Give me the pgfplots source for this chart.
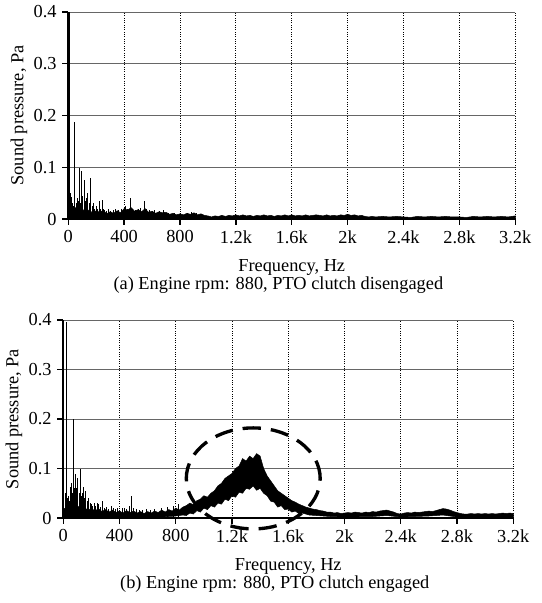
\documentclass[border=0pt]{standalone}
\usepackage{fontspec}
\setmainfont{Liberation Serif}
\usepackage{pgfplots}
\pgfplotsset{compat=1.18}

\pgfplotsset{spec/.style={
  scale only axis, clip=false,
  xmin=0, xmax=3200, ymin=0, ymax=0.4,
  axis x line=bottom, axis y line=left,
  axis line style={-, line width=1pt},
  xtick={0,400,800,1200,1600,2000,2400,2800,3200},
  xticklabels={0,400,800,1.2k,1.6k,2k,2.4k,2.8k,3.2k},
  ytick={0,0.1,0.2,0.3,0.4},
  yticklabels={0,0.1,0.2,0.3,0.4},
  tick align=outside, major tick length=3.5pt,
  tick style={black, line width=0.8pt},
  grid=major,
  x grid style={black, densely dotted, line width=0.5pt},
  y grid style={black!60, line width=0.5pt},
  xlabel={Frequency, Hz}, ylabel={Sound pressure, Pa},
  ylabel style={yshift=-3pt}, xlabel style={yshift=-2.5pt},
  tick label style={font=\fontsize{11}{13}\selectfont},
  label style={font=\fontsize{11}{13}\selectfont},
  /pgf/number format/assume math mode=true,
}}

\begin{document}
\begin{tikzpicture}
\path (-37.8pt,-51pt) rectangle (286.8pt,310.8pt);

% (a) clutch disengaged
\begin{axis}[spec, at={(3pt,179.4pt)}, width=268.2pt, height=124.2pt]
\addplot[fill=black, draw=black, line width=0.3pt] coordinates {
(0,0.02)(25,0.015)(50,0.022)(75,0.014)(100,0.02)(125,0.012)(150,0.018)(175,0.011)
(200,0.016)(225,0.013)(250,0.017)(275,0.01)(300,0.014)(325,0.011)(350,0.016)(375,0.012)
(400,0.02)(425,0.017)(450,0.022)(475,0.015)(500,0.018)(525,0.014)(550,0.02)(575,0.013)
(600,0.015)(625,0.011)(650,0.014)(675,0.012)(700,0.013)(725,0.009)(750,0.011)(775,0.008)
(800,0.01)(825,0.008)(850,0.011)(875,0.009)(900,0.012)(925,0.008)(950,0.01)(975,0.007)
(1000,0.006)(1025,0.004)(1050,0.006)(1075,0.005)(1100,0.007)(1125,0.005)(1150,0.007)(1175,0.006)
(1200,0.008)(1225,0.006)(1250,0.008)(1275,0.006)(1300,0.007)(1325,0.005)(1350,0.007)(1375,0.006)
(1400,0.008)(1425,0.006)(1450,0.007)(1475,0.005)(1500,0.007)(1525,0.006)(1550,0.008)(1575,0.006)
(1600,0.008)(1625,0.006)(1650,0.007)(1675,0.006)(1700,0.008)(1725,0.006)(1750,0.007)(1775,0.008)
(1800,0.007)(1825,0.006)(1850,0.008)(1875,0.006)(1900,0.007)(1925,0.006)(1950,0.008)(1975,0.007)
(2000,0.009)(2025,0.007)(2050,0.008)(2075,0.006)(2100,0.007)(2125,0.005)(2150,0.004)(2175,0.005)
(2200,0.004)(2250,0.005)(2300,0.004)(2350,0.005)(2400,0.004)(2450,0.003)(2500,0.005)(2550,0.004)
(2600,0.005)(2650,0.004)(2700,0.005)(2750,0.004)(2800,0.004)(2850,0.003)(2900,0.005)(2950,0.004)
(3000,0.005)(3050,0.004)(3100,0.005)(3150,0.004)(3200,0.006)
} \closedcycle;
\addplot[ycomb, black, line width=0.5pt, mark=none] coordinates {
(2,0.35)(8,0.40)(14,0.05)(21,0.043)(30,0.03)(38,0.025)(47,0.187)(55,0.03)(63,0.04)
(71,0.035)(79,0.098)(87,0.03)(95,0.092)(104,0.045)(113,0.075)(121,0.035)(130,0.04)
(140,0.051)(150,0.03)(161,0.079)(170,0.025)(180,0.03)(190,0.02)(200,0.025)(212,0.02)
(224,0.034)(232,0.02)(241,0.037)(250,0.02)(262,0.018)(275,0.015)(290,0.02)(305,0.015)
(320,0.018)(340,0.02)(360,0.017)(380,0.02)(400,0.022)(412,0.025)(425,0.02)(446,0.041)
(460,0.02)(480,0.018)(500,0.02)(520,0.022)(546,0.034)(560,0.02)(580,0.018)(600,0.016)
(620,0.017)(650,0.016)(680,0.017)(720,0.012)(760,0.012)(800,0.011)(850,0.012)(880,0.013)(920,0.012)
};
\node[font=\fontsize{11}{13}\selectfont] at (rel axis cs:0.47,0) [yshift=-39.5pt]
  {(a) Engine rpm: 880, PTO clutch disengaged};
\end{axis}

% (b) clutch engaged
\begin{axis}[spec, at={(0pt,0pt)}, width=270pt, height=118.8pt]
\addplot[fill=black, draw=black, line width=0.3pt] coordinates {
(0,0.02)(25,0.018)(50,0.025)(75,0.02)(100,0.025)(125,0.018)(150,0.022)(175,0.015)
(200,0.02)(225,0.014)(250,0.019)(275,0.013)(300,0.017)(325,0.012)(350,0.016)(375,0.011)
(400,0.014)(425,0.01)(450,0.015)(475,0.011)(500,0.014)(525,0.01)(550,0.013)(575,0.009)
(600,0.013)(625,0.01)(650,0.014)(675,0.011)(700,0.016)(725,0.012)(750,0.017)(775,0.014)
(800,0.02)(825,0.016)(850,0.022)(875,0.025)(900,0.03)(925,0.027)(950,0.035)(975,0.038)
(1000,0.045)(1025,0.042)(1050,0.05)(1075,0.055)(1100,0.065)(1125,0.07)(1150,0.08)(1175,0.085)
(1200,0.09)(1225,0.1)(1250,0.105)(1275,0.12)(1300,0.115)(1325,0.125)(1350,0.12)(1375,0.13)
(1400,0.125)(1425,0.1)(1450,0.085)(1475,0.075)(1500,0.065)(1525,0.055)(1550,0.05)(1575,0.045)
(1600,0.04)(1625,0.035)(1650,0.032)(1675,0.028)(1700,0.025)(1725,0.022)(1750,0.02)(1775,0.018)
(1800,0.017)(1825,0.015)(1850,0.014)(1875,0.012)(1900,0.012)(1925,0.01)(1950,0.011)(1975,0.009)
(2000,0.01)(2025,0.011)(2050,0.01)(2075,0.012)(2100,0.011)(2125,0.01)(2150,0.012)(2175,0.011)
(2200,0.013)(2225,0.012)(2250,0.014)(2275,0.015)(2300,0.016)(2325,0.014)(2350,0.012)(2375,0.009)
(2400,0.008)(2425,0.01)(2450,0.011)(2475,0.01)(2500,0.012)(2525,0.011)(2550,0.012)(2575,0.013)
(2600,0.014)(2625,0.013)(2650,0.015)(2675,0.017)(2700,0.019)(2725,0.018)(2750,0.016)(2775,0.013)
(2800,0.011)(2825,0.009)(2850,0.008)(2875,0.008)(2900,0.009)(2925,0.008)(2950,0.009)(2975,0.008)
(3000,0.009)(3025,0.008)(3050,0.009)(3075,0.008)(3100,0.009)(3125,0.01)(3150,0.009)(3175,0.01)(3200,0.009)
(3200,0.002)(2800,0.002)(2700,0.006)(2600,0.004)(2400,0.002)(2300,0.005)(2200,0.003)(2000,0.002)
(1900,0.003)(1800,0.005)(1750,0.006)(1700,0.01)(1675,0.009)(1650,0.014)(1625,0.012)(1600,0.018)
(1575,0.017)(1550,0.025)(1525,0.022)(1500,0.032)(1475,0.034)(1450,0.045)(1425,0.05)(1400,0.06)
(1375,0.056)(1350,0.065)(1325,0.058)(1300,0.06)(1275,0.05)(1250,0.052)(1225,0.042)(1200,0.045)
(1175,0.035)(1150,0.038)(1125,0.028)(1100,0.03)(1075,0.022)(1050,0.025)(1025,0.017)(1000,0.02)
(975,0.012)(950,0.015)(925,0.008)(900,0.01)(875,0.005)(850,0.006)(800,0.004)(700,0.002)(0,0)
};
\addplot[ycomb, black, line width=0.5pt, mark=none] coordinates {
(4,0.055)(12,0.05)(21,0.395)(28,0.04)(36,0.045)(44,0.035)(50,0.062)(58,0.07)(66,0.05)
(75,0.2)(82,0.06)(89,0.088)(97,0.06)(104,0.081)(112,0.05)(121,0.1)(130,0.045)(138,0.05)
(145,0.062)(153,0.04)(161,0.055)(170,0.035)(180,0.04)(190,0.03)(200,0.028)(210,0.025)
(222,0.03)(232,0.025)(242,0.03)(252,0.028)(262,0.022)(275,0.035)(290,0.02)(305,0.022)
(320,0.018)(340,0.025)(355,0.02)(370,0.018)(385,0.02)(400,0.016)(420,0.02)(434,0.021)
(450,0.018)(470,0.025)(482,0.04)(488,0.045)(500,0.02)(520,0.018)(540,0.017)(560,0.016)
(590,0.018)(620,0.016)(650,0.018)(700,0.02)(740,0.022)(780,0.025)(820,0.028)
};
\draw[black, line width=2pt, dash pattern=on 11pt off 6pt]
  (axis cs:1351,0.08) ellipse [x radius=476, y radius=0.102];
\node[font=\fontsize{11}{13}\selectfont] at (rel axis cs:0.47,0) [yshift=-39.5pt]
  {(b) Engine rpm: 880, PTO clutch engaged};
\end{axis}
\end{tikzpicture}
\end{document}
